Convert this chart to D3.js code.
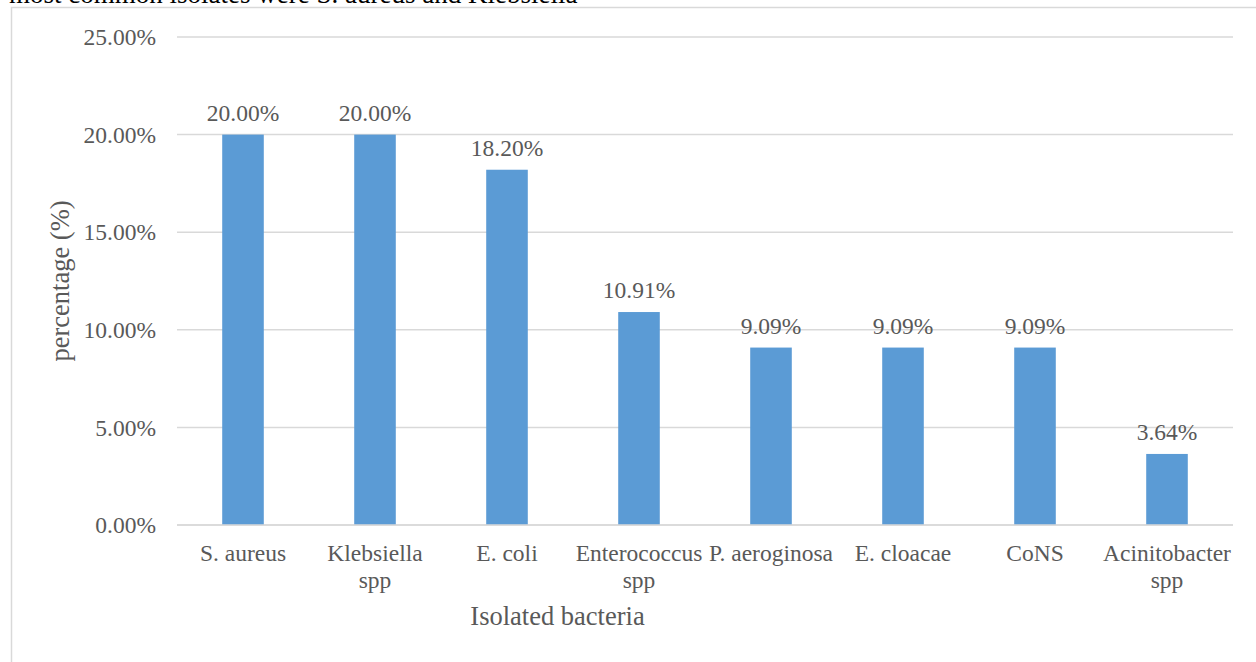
<!DOCTYPE html>
<html>
<head>
<meta charset="utf-8">
<script src="https://cdn.jsdelivr.net/npm/d3@7"></script>
<style>
  body { margin: 0; background: #fff; }
  svg { display: block; font-family: "Liberation Serif", "Times New Roman", serif; }
</style>
</head>
<body>
<svg id="chart" width="1256" height="662"></svg>
<script>
// isolated bacteria and their share (%)
var categories = [
  ['S. aureus'], ['Klebsiella', 'spp'], ['E. coli'], ['Enterococcus', 'spp'],
  ['P. aeroginosa'], ['E. cloacae'], ['CoNS'], ['Acinitobacter', 'spp']
];
var values = [20.00, 20.00, 18.20, 10.91, 9.09, 9.09, 9.09, 3.64];
var yTicks = [0, 5, 10, 15, 20, 25];

(function() {
  'use strict';
  var svg = d3.select('#chart');
  var textColor = '#595959';
  var fontSize = '23.5px';
  var titleSize = '26.5px';

  // cut-off caption line above the chart box
  svg.append('text')
    .attr('x', 9).attr('y', 2.5)
    .style('font-size', '27px')
    .attr('fill', '#000')
    .text('most common isolates were S. aureus and Klebsiella');

  // chart frame
  svg.append('rect')
    .attr('x', 11.5).attr('y', 7.5)
    .attr('width', 1300).attr('height', 700)
    .attr('fill', 'none')
    .attr('stroke', '#d9d9d9')
    .attr('stroke-width', 1.5);

  var x = d3.scaleBand()
    .domain(d3.range(categories.length))
    .range([177, 1233])
    .paddingInner(0.685)
    .paddingOuter(0.3425);

  var y = d3.scaleLinear().domain([0, 25]).range([525, 37]);

  // gridlines
  svg.append('g').selectAll('line')
    .data(yTicks)
    .enter().append('line')
    .attr('x1', 177).attr('x2', 1233)
    .attr('y1', function(d) { return y(d); })
    .attr('y2', function(d) { return y(d); })
    .attr('stroke', '#d9d9d9')
    .attr('stroke-width', 1.5);

  // y tick labels
  svg.append('g').selectAll('text')
    .data(yTicks)
    .enter().append('text')
    .attr('x', 156)
    .attr('y', function(d) { return y(d); })
    .attr('dy', '0.35em')
    .attr('text-anchor', 'end')
    .attr('fill', textColor)
    .style('font-size', fontSize)
    .text(function(d) { return d.toFixed(2) + '%'; });

  // bars
  svg.append('g').selectAll('rect')
    .data(values)
    .enter().append('rect')
    .attr('x', function(d, i) { return x(i); })
    .attr('width', x.bandwidth())
    .attr('y', function(d) { return y(d); })
    .attr('height', function(d) { return y(0) - y(d); })
    .attr('fill', '#5b9bd5');

  // axis line on top of bars
  svg.append('line')
    .attr('x1', 177).attr('x2', 1233)
    .attr('y1', y(0)).attr('y2', y(0))
    .attr('stroke', '#d9d9d9')
    .attr('stroke-width', 1.5);

  // data labels
  svg.append('g').selectAll('text')
    .data(values)
    .enter().append('text')
    .attr('x', function(d, i) { return x(i) + x.bandwidth() / 2; })
    .attr('y', function(d) { return y(d) - 14; })
    .attr('text-anchor', 'middle')
    .attr('fill', textColor)
    .style('font-size', fontSize)
    .text(function(d) { return d.toFixed(2) + '%'; });

  // category labels
  var cat = svg.append('g').selectAll('text')
    .data(categories)
    .enter().append('text')
    .attr('text-anchor', 'middle')
    .attr('fill', textColor)
    .style('font-size', fontSize);
  cat.selectAll('tspan')
    .data(function(d, i) { return d.map(function(s) { return {s: s, i: i}; }); })
    .enter().append('tspan')
    .attr('x', function(d) { return x(d.i) + x.bandwidth() / 2; })
    .attr('y', function(d, j) { return 561 + j * 27; })
    .text(function(d) { return d.s; });

  // axis titles
  svg.append('text')
    .attr('x', 557.5).attr('y', 625)
    .attr('text-anchor', 'middle')
    .attr('fill', textColor)
    .style('font-size', titleSize)
    .text('Isolated bacteria');

  svg.append('text')
    .attr('transform', 'translate(69,' + 281 + ') rotate(-90)')
    .attr('text-anchor', 'middle')
    .attr('fill', textColor)
    .style('font-size', titleSize)
    .text('percentage (%)');
})();
</script>
</body>
</html>
